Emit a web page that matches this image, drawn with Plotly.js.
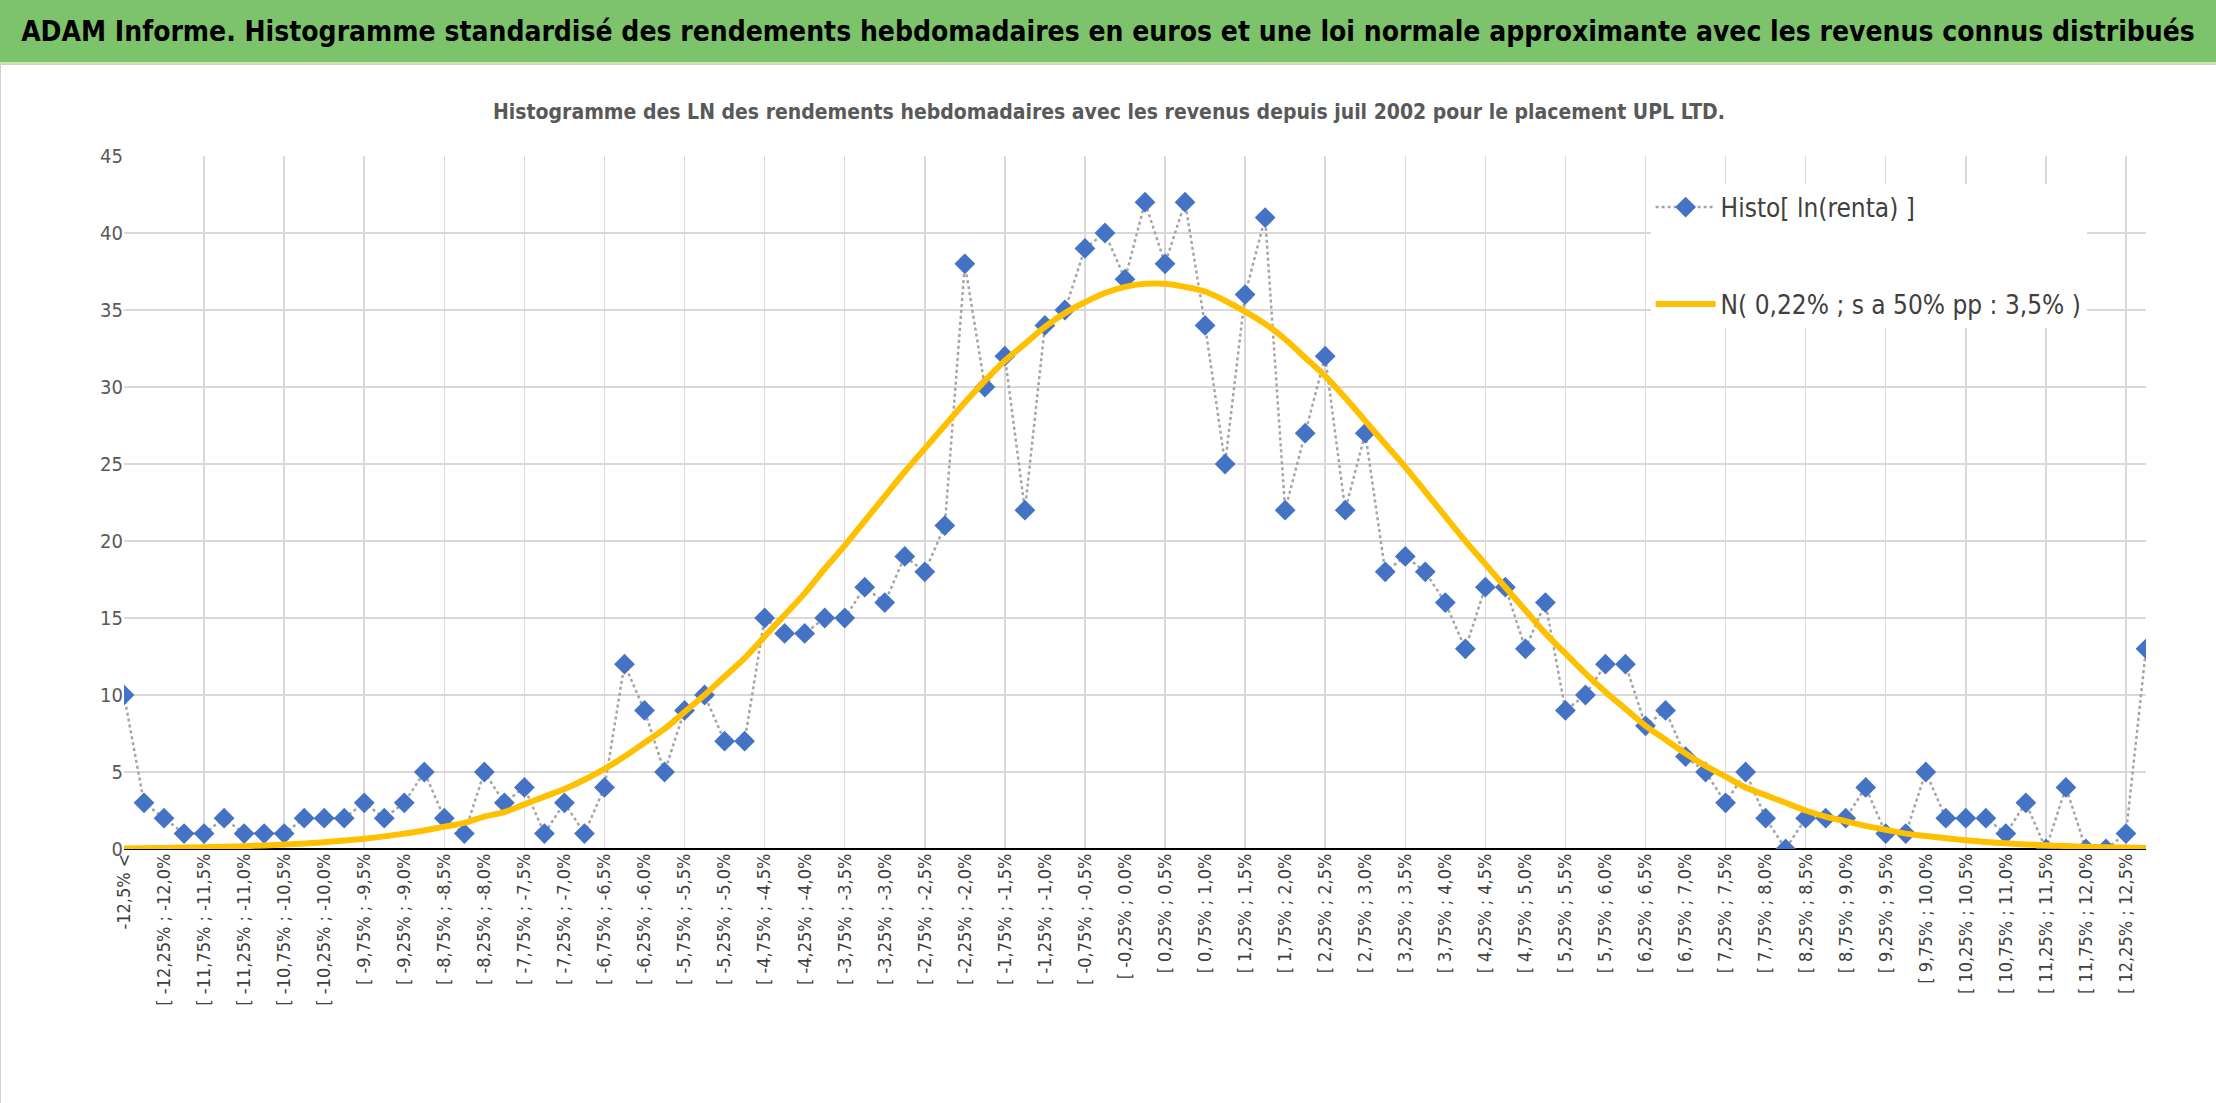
<!DOCTYPE html>
<html>
<head>
<meta charset="utf-8">
<script src="https://cdn.plot.ly/plotly-3.0.1.min.js"></script>
<style>
  body { margin: 0; background: #fff; font-family: "DejaVu Sans Condensed", "Liberation Sans", sans-serif; }
  #header {
    height: 62px; background: #7cc36b; border-bottom: 2px solid #c9e5a8;
    font-weight: bold; font-size: 28px; color: #000; white-space: nowrap; overflow: hidden;
    display: flex; align-items: center; justify-content: center;
  }
  #chart { width: 2216px; height: 1039px; border: 1px solid #d0d0d0; box-sizing: border-box; }
</style>
</head>
<body>
<div id="header">ADAM Informe. Histogramme standardisé des rendements hebdomadaires en euros et une loi normale approximante avec les revenus connus distribués</div>
<div id="chart"></div>
<script>
// counts per 0.25% bin, index 0 = "-12,5% <", last = beyond 12,5%
const histoCounts = [
  10, 3, 2, 1, 1, 2, 1, 1, 1, 2, 2, 2, 3, 2, 3, 5, 2, 1, 5, 3,
  4, 1, 3, 1, 4, 12, 9, 5, 9, 10, 7, 7, 15, 14, 14, 15, 15, 17, 16, 19,
  18, 21, 38, 30, 32, 22, 34, 35, 39, 40, 37, 42, 38, 42, 34, 25, 36, 41, 22, 27,
  32, 22, 27, 18, 19, 18, 16, 13, 17, 17, 13, 16, 9, 10, 12, 12, 8, 9, 6, 5,
  3, 5, 2, 0, 2, 2, 2, 4, 1, 1, 5, 2, 2, 2, 1, 3, 0, 4, 0, 0,
  1, 13
];
// approximating normal curve
const normalCurve = [
  0.04, 0.05, 0.07, 0.09, 0.11, 0.14, 0.18, 0.23, 0.29, 0.36, 0.44, 0.55, 0.67, 0.82, 1.0, 1.2,
  1.45, 1.7, 2.1, 2.4, 2.9, 3.4, 3.9, 4.5, 5.2, 6.0, 6.9, 7.8, 8.9, 10.0, 11.2, 12.4,
  13.8, 15.2, 16.6, 18.2, 19.7, 21.3, 22.9, 24.5, 26.0, 27.5, 29.0, 30.4, 31.7, 32.8, 33.9, 34.8,
  35.5, 36.1, 36.5, 36.7, 36.7, 36.5, 36.2, 35.6, 34.9, 34.1, 33.1, 31.9, 30.7, 29.3, 27.8, 26.3,
  24.8, 23.2, 21.6, 20.0, 18.5, 17.0, 15.5, 14.0, 12.7, 11.4, 10.2, 9.1, 8.0, 7.1, 6.2, 5.4,
  4.7, 4.0, 3.5, 3.0, 2.5, 2.1, 1.8, 1.5, 1.25, 1.0, 0.85, 0.7, 0.57, 0.46, 0.37, 0.30,
  0.24, 0.19, 0.15, 0.12, 0.09, 0.07
];

const binIndex = histoCounts.map((_, i) => i);

function fmt(v) {
  let s = Math.abs(v % 1) < 1e-9 ? v.toFixed(1) : String(Math.round(v * 100) / 100);
  if (s === "-0.0") s = "0.0";
  return s.replace(".", ",") + "%";
}

// Excel shows every other category label
const tickVals = [];
const tickText = [];
binIndex.forEach((i) => {
  if (i % 2 !== 0 || i > 100) return;
  tickVals.push(i);
  if (i === 0) tickText.push("-12,5% <");
  else tickText.push("[ " + fmt(-12.5 + 0.25 * (i - 1)) + " ; " + fmt(-12.5 + 0.25 * i));
});
const gridVals = binIndex.filter((i) => i % 4 === 0);

const fontFam = '"DejaVu Sans Condensed", "Liberation Sans", sans-serif';

const data = [
  {
    x: binIndex, y: histoCounts, name: "Histo[ ln(renta) ]", legendgroup: "a",
    type: "scatter", mode: "lines+markers",
    line: { color: "#a5a5a5", width: 2.5, dash: "dot" },
    marker: { symbol: "diamond", size: 16, color: "#4472c4" },
  },
  {
    x: binIndex, y: normalCurve, name: "N( 0,22% ; s a 50% pp : 3,5% )", legendgroup: "b",
    type: "scatter", mode: "lines", xaxis: "x2",
    line: { color: "#ffc000", width: 6, shape: "spline" },
  },
];

const layout = {
  margin: { l: 123, r: 71, t: 91, b: 255 },
  paper_bgcolor: "#fff", plot_bgcolor: "#fff",
  font: { family: fontFam, color: "#595959" },
  title: {
    text: "<b>Histogramme des LN des rendements hebdomadaires avec les revenus depuis juil 2002 pour le placement UPL LTD.</b>",
    font: { size: 21, color: "#595959", family: fontFam },
    x: 0.5, y: 0.955, yanchor: "middle",
  },
  xaxis: {
    range: [0, 101], tickmode: "array", tickvals: tickVals, ticktext: tickText,
    tickangle: -90, tickfont: { size: 18, color: "#404040" },
    showgrid: false, zeroline: false, showline: false, ticks: "",
  },
  xaxis2: {
    range: [0, 101], overlaying: "x", tickmode: "array", tickvals: gridVals,
    showticklabels: false, showgrid: true, gridcolor: "#d9d9d9", gridwidth: 1.5,
    zeroline: false, ticks: "",
  },
  yaxis: {
    range: [0, 45], dtick: 5, tickfont: { size: 20, color: "#595959" },
    gridcolor: "#d9d9d9", gridwidth: 1.5,
    zeroline: true, zerolinecolor: "#000", zerolinewidth: 2.5, ticklen: 0,
  },
  legend: {
    x: 0.755, y: 0.96, xanchor: "left", yanchor: "top",
    bgcolor: "#fff", font: { size: 26, color: "#404040", family: fontFam },
    tracegroupgap: 60, itemwidth: 60, traceorder: "grouped",
  },
  showlegend: true,
};

Plotly.newPlot("chart", data, layout, { displayModeBar: false, staticPlot: true });
</script>
</body>
</html>
